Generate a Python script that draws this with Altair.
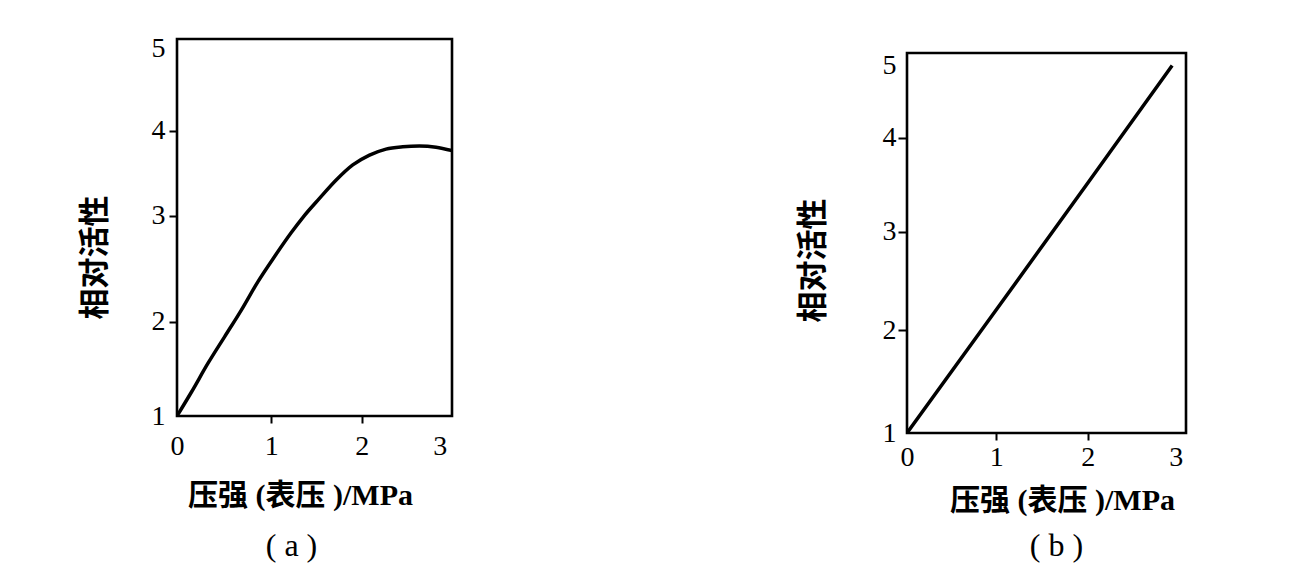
import altair as alt
import pandas as pd

# ---- data ----
# panel (a): relative activity vs gauge pressure (curve)
a_pressure = [0.0, 0.152, 0.329, 0.504, 0.682, 0.857, 1.036, 1.219, 1.350, 1.532, 1.717,
              1.900, 2.099, 2.311, 2.527, 2.739, 2.954, 3.159]
a_activity = [1.0, 1.252, 1.56, 1.84, 2.110, 2.377, 2.616, 2.840, 2.986, 3.204, 3.420,
              3.597, 3.712, 3.783, 3.810, 3.819, 3.805, 3.765]
# panel (b): relative activity vs gauge pressure (straight line)
b_pressure = [0.0, 1.0, 2.0, 2.96]
b_activity = [1.0, 2.21, 3.52, 5.0]

x_ticks = [0, 1, 2, 3]
y_ticks = [1, 2, 3, 4, 5]

y_title = "相对活性"
x_title = "压强 (表压 )/MPa"
labels = ["( a )", "( b )"]

df_a = pd.DataFrame({"p": a_pressure, "v": a_activity})
df_b = pd.DataFrame({"p": b_pressure, "v": b_activity})

NUM_FONT = "Liberation Serif"
MIX_FONT = 'Liberation Serif, "Noto Sans CJK SC"'
CJK_FONT = "Noto Sans CJK SC"


def panel(df, W, H, xfr, yfr, tick_y, pad_y, tick_x, pad_x, ytx, yty, xtx, xty,
          label, ldx, loff, interp):
    x_scale = alt.Scale(domain=x_ticks, range=[f * W for f in xfr], nice=False, zero=False)
    y_scale = alt.Scale(domain=y_ticks, range=[H * (1 - f) for f in yfr], nice=False, zero=False)
    x_axis = alt.Axis(
        values=x_ticks, title=x_title, grid=False, domain=False,
        tickSize=tick_x, tickWidth=2,
        tickColor={"condition": {"test": "datum.value == 0 || datum.value == 3",
                                 "value": "transparent"}, "value": "black"},
        labelFont=NUM_FONT, labelFontSize=28, labelColor="black", labelPadding=pad_x,
        labelFlush=False,
        titleFont=MIX_FONT, titleFontSize=30, titleFontWeight="bold", titleColor="black",
        titleX=xtx, titleY=xty, titleAlign="center", titleBaseline="middle",
    )
    y_axis = alt.Axis(
        values=y_ticks, title=y_title, grid=False, domain=False,
        tickSize=tick_y, tickWidth=2,
        tickColor={"condition": {"test": "datum.value == 1 || datum.value == 5",
                                 "value": "transparent"}, "value": "black"},
        labelFont=NUM_FONT, labelFontSize=28, labelColor="black", labelPadding=pad_y,
        labelFlush=False,
        titleFont=CJK_FONT, titleFontSize=31, titleFontWeight="bold", titleColor="black",
        titleAngle=270, titleX=ytx, titleY=yty, titleAlign="center", titleBaseline="middle",
    )
    return (
        alt.Chart(df)
        .mark_line(color="black", strokeWidth=3.5, interpolate=interp, clip=True)
        .encode(
            x=alt.X("p:Q", scale=x_scale, axis=x_axis),
            y=alt.Y("v:Q", scale=y_scale, axis=y_axis),
        )
        .properties(
            width=W, height=H,
            title=alt.TitleParams(
                text=label, orient="bottom", anchor="middle", font=NUM_FONT,
                fontSize=32, fontWeight="normal", color="black", offset=loff, dx=ldx,
            ),
        )
    )


pa = panel(df_a, 275, 377,
           [0, 0.343, 0.672, 0.955], [0, 0.250, 0.531, 0.757, 0.975],
           8, 4, 7, 9, -82, 218, 123, 79, labels[0], -23, 21, "monotone")
pb = panel(df_b, 279, 380,
           [0, 0.32, 0.648, 0.963], [0, 0.270, 0.529, 0.777, 0.967],
           9, 2, 7, 3, -94, 207, 155, 67, labels[1], 10, 16, "linear")

# thin invisible spacer that drops panel (b) a little lower than panel (a)
spacer = (
    alt.Chart(pd.DataFrame({"p": [0]}))
    .mark_point(opacity=0)
    .encode(x=alt.value(0), y=alt.value(0))
    .properties(width=1, height=9, view=alt.ViewBackground(stroke="transparent"))
)

chart = (
    alt.hconcat(pa, alt.vconcat(spacer, pb, spacing=0), spacing=341)
    .properties(padding={"left": 69, "top": 25, "right": 5, "bottom": 5})
    .configure_view(stroke="black", strokeWidth=2.6)
)

chart.save("out.html", embed_options={"renderer": "svg", "actions": False})
